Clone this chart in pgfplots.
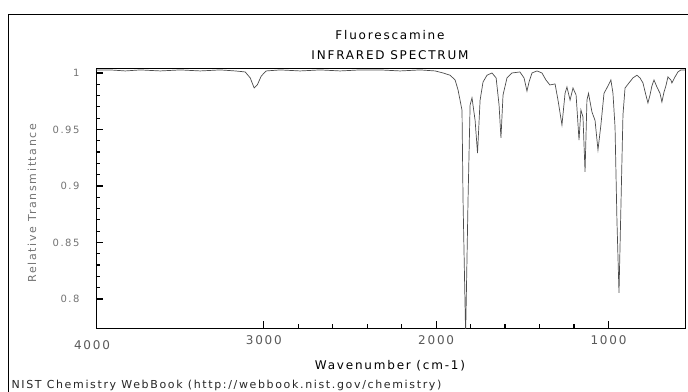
\documentclass[border=0pt]{standalone}
\usepackage{fontspec}
\setmainfont{DejaVu Sans}[LetterSpace=15]
\usepackage{pgfplots}
\pgfplotsset{compat=1.18}
\pgfplotstableread{
wn value
3974 1.0027
3891 1.0027
3804 1.0018
3717 1.0027
3601 1.0018
3485 1.0027
3369 1.0018
3253 1.0027
3166 1.0018
3108 1.0009
3079 0.9956
3056 0.9867
3038 0.9894
3015 0.9973
2986 1.0018
2905 1.0027
2789 1.0018
2673 1.0027
2557 1.0018
2441 1.0027
2325 1.0027
2209 1.0018
2093 1.0027
2006 1.0018
1960 1.0000
1919 0.9980
1890 0.9938
1873 0.9850
1850 0.9670
1844 0.8876
1829 0.7680
1815 0.8880
1803 0.9717
1792 0.9780
1774 0.9580
1760 0.9290
1745 0.9760
1728 0.9920
1705 0.9980
1676 1.0000
1652 0.9956
1635 0.9717
1624 0.9425
1612 0.9805
1589 0.9956
1560 1.0000
1514 1.0009
1490 0.9956
1473 0.9840
1461 0.9920
1444 1.0000
1415 1.0018
1386 1.0000
1363 0.9938
1340 0.9894
1310 0.9903
1293 0.9760
1270 0.9540
1252 0.9820
1241 0.9876
1223 0.9760
1206 0.9867
1188 0.9805
1171 0.9407
1160 0.9673
1148 0.9610
1136 0.9124
1125 0.9760
1116 0.9820
1096 0.9655
1078 0.9580
1061 0.9319
1044 0.9540
1026 0.9820
1003 0.9885
986 0.9938
974 0.9820
962 0.9522
951 0.8700
939 0.8053
927 0.8876
916 0.9628
904 0.9867
881 0.9912
858 0.9956
835 0.9980
817 0.9956
800 0.9912
783 0.9805
771 0.9735
759 0.9805
748 0.9885
736 0.9938
719 0.9876
701 0.9820
690 0.9743
678 0.9830
667 0.9885
655 0.9965
638 0.9938
632 0.9912
614 0.9965
597 1.0009
580 1.0027
556 1.0027
}\spectrum
\begin{document}
\begin{tikzpicture}
\path[use as bounding box] (0,0) rectangle (688bp,-392bp);
\draw[black, line width=0.8bp] (8bp,-392bp) -- (8bp,-14bp) -- (688bp,-14bp);
\begin{axis}[
  at={(96bp,-328bp)}, anchor=south west,
  width=589bp, height=260bp, scale only axis,
  x dir=reverse,
  xmin=556, xmax=3974,
  ymin=0.7743, ymax=1.0044,
  xtick={1000,2000,3000},
  minor x tick num=4,
  ytick={0.8,0.85,0.9,0.95,1},
  yticklabels={0.8,0.85,0.9,0.95,1},
  minor y tick num=4,
  tick pos=left,
  tick align=inside,
  major tick length=7bp,
  minor tick length=4bp,
  axis line style={black, line width=0.8bp},
  xtick style={black, line width=1.2bp},
  ytick style={black, line width=1.2bp},
  /pgf/number format/assume math mode=true,
  /pgf/number format/1000 sep={},
  xticklabel style={font=\fontsize{12bp}{14bp}\selectfont, text=black!65, yshift=-4bp},
  yticklabel style={font=\fontsize{10bp}{12bp}\selectfont, text=black!55, xshift=-13bp},
  clip=true,
]
\addplot[black!70, line width=0.7bp] table[x=wn, y=value] {\spectrum};
\end{axis}
\node[font=\fontsize{12bp}{14bp}\selectfont, text=black!65] at (92bp,-345bp) {4000};
\node[font=\fontsize{12bp}{14bp}\selectfont] at (390bp,-35bp) {Fluorescamine};
\node[font=\fontsize{12bp}{14bp}\selectfont] at (390bp,-55bp) {INFRARED SPECTRUM};
\node[font=\fontsize{12bp}{14bp}\selectfont] at (390bp,-366bp) {Wavenumber (cm-1)};
\node[font=\fontsize{11bp}{13bp}\selectfont, text=black!55, rotate=90] at (32bp,-203bp) {Relative Transmittance};
\node[font=\fontsize{11bp}{13bp}\selectfont, text=black!85, anchor=west] at (8bp,-385bp) {NIST Chemistry WebBook (http://webbook.nist.gov/chemistry)};
\end{tikzpicture}
\end{document}
